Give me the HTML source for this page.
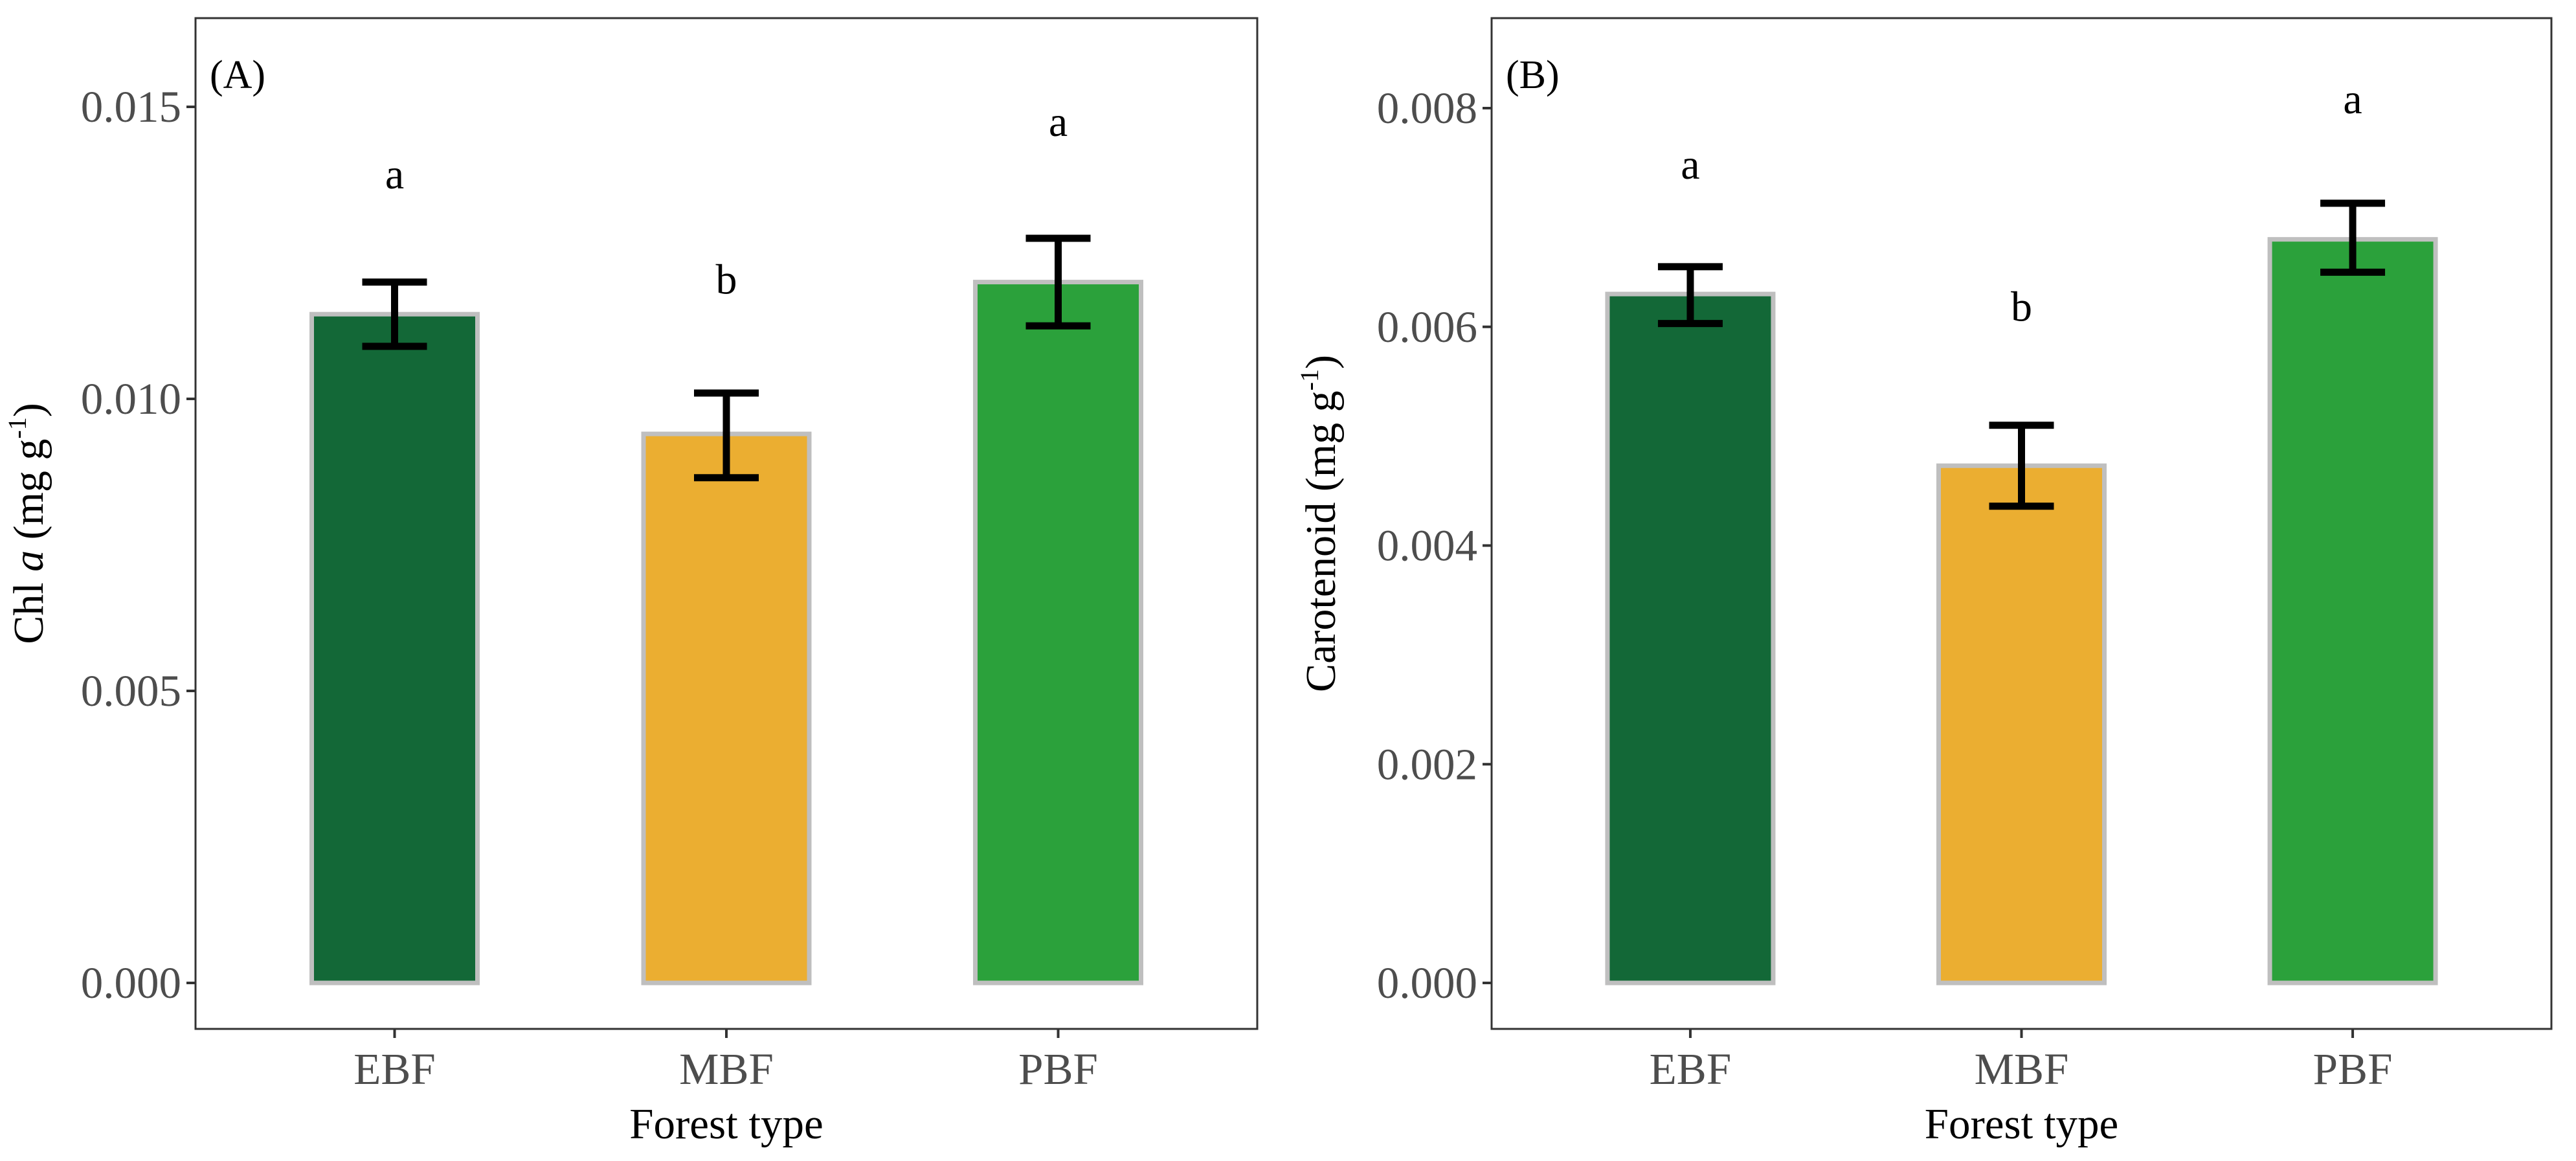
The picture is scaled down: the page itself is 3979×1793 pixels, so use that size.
<!DOCTYPE html>
<html><head><meta charset="utf-8"><style>
html,body{margin:0;padding:0;background:#fff;}
svg{display:block;}
text{font-family:"Liberation Serif",serif;}
</style></head><body>
<svg id="chart" width="3979" height="1793" viewBox="0 0 3979 1793" xmlns="http://www.w3.org/2000/svg"></svg>
<script>
const categories = ["EBF","MBF","PBF"];
const colors = ["#136837","#ebae31","#2ba13b"];
const chlValues = [0.01145,0.0094,0.0120];
const chlLow = [0.0109,0.00865,0.01125];
const chlHigh = [0.0120,0.0101,0.01275];
const chlLetters = ["a","b","a"];
const chlLetterY = [0.0138,0.0120,0.0147];
const chlTicks = [0,0.005,0.010,0.015];
const chlTickLabels = ["0.000","0.005","0.010","0.015"];
const carValues = [0.0063,0.00473,0.0068];
const carLow = [0.00603,0.00436,0.0065];
const carHigh = [0.00655,0.0051,0.00713];
const carLetters = ["a","b","a"];
const carLetterY = [0.00746,0.00616,0.00806];
const carTicks = [0,0.002,0.004,0.006,0.008];
const carTickLabels = ["0.000","0.002","0.004","0.006","0.008"];

const svg = document.getElementById('chart');
const NS = "http://www.w3.org/2000/svg";
function mk(tag, attrs, parent){
  const e = document.createElementNS(NS, tag);
  for (const k in attrs) e.setAttribute(k, attrs[k]);
  (parent||svg).appendChild(e);
  return e;
}
function panel(cfg){
  const g = mk('g',{});
  
  
  const y = v => cfg.y0 - v/cfg.max*(cfg.y0-cfg.yMax);
  const step = (cfg.right-cfg.left)/3.2;
  const x = i => cfg.left + step*(0.6 + i);
  const bw = 256;
  const fr = mk('rect',{x:cfg.left,y:28,width:cfg.right-cfg.left,height:1561,fill:'none',stroke:'#333',"stroke-width":3},g);
  
  
  cfg.ticks.forEach((t,i)=>{
    const yy = y(t);
    const tk = mk('line',{x1:cfg.left-14,x2:cfg.left,y1:yy,y2:yy,stroke:'#333',"stroke-width":4},g);
    
    
    const tl = mk('text',{x:cfg.left-22,y:yy+23,"text-anchor":"end","font-size":69,fill:'#4d4d4d'},g);
    tl.textContent = cfg.tickLabels[i];
    
    
  });
  categories.forEach((c,i)=>{
    const cx = x(i);
    const b = mk('rect',{x:cx-bw/2,y:y(cfg.values[i]),width:bw,height:y(0)-y(cfg.values[i]),fill:colors[i],stroke:'#bfbfbf',"stroke-width":7},g);
    
    
    const eb = mk('path',{d:`M${cx-50},${y(cfg.high[i])}H${cx+50}M${cx},${y(cfg.high[i])}V${y(cfg.low[i])}M${cx-50},${y(cfg.low[i])}H${cx+50}`,stroke:'#000',"stroke-width":11,fill:'none'},g);
    
    
    const lt = mk('text',{x:cx,y:y(cfg.letterY[i])+18,"text-anchor":"middle","font-size":66,fill:'#000'},g);
    lt.textContent = cfg.letters[i];
    
    
    const xt = mk('line',{x1:cx,x2:cx,y1:1589,y2:1603,stroke:'#333',"stroke-width":4},g);
    
    
    const xl = mk('text',{x:cx,y:1674,"text-anchor":"middle","font-size":69,fill:'#4d4d4d'},g);
    xl.textContent = c;
    
    
  });
  const xtit = mk('text',{x:(cfg.left+cfg.right)/2,y:1758,"text-anchor":"middle","font-size":67,fill:'#000'},g);
  xtit.textContent = 'Forest type';
  
  
  const lab = mk('text',{x:cfg.left+22,y:136,"font-size":62,fill:'#000'},g);
  lab.textContent = cfg.label;
  
  
  const yt = mk('text',{transform:`translate(${cfg.titleX},${(28+1589)/2}) rotate(-90)`,"text-anchor":"middle","font-size":66,fill:'#000'},g);
  yt.innerHTML = cfg.title;
  
  
}
panel({name:'panel-a-chl',left:302,right:1942,y0:1518,yMax:165,max:0.015,ticks:chlTicks,tickLabels:chlTickLabels,values:chlValues,low:chlLow,high:chlHigh,letters:chlLetters,letterY:chlLetterY,label:'(A)',titleX:66,title:'Chl <tspan font-style="italic">a</tspan> (mg g<tspan font-size="40" dy="-26">-1</tspan><tspan dy="26">)</tspan>'});
panel({name:'panel-b-carotenoid',left:2304,right:3941,y0:1518,yMax:167,max:0.008,ticks:carTicks,tickLabels:carTickLabels,values:carValues,low:carLow,high:carHigh,letters:carLetters,letterY:carLetterY,label:'(B)',titleX:2062,title:'Carotenoid (mg g<tspan font-size="40" dy="-26">-1</tspan><tspan dy="26">)</tspan>'});
</script>
</body></html>
